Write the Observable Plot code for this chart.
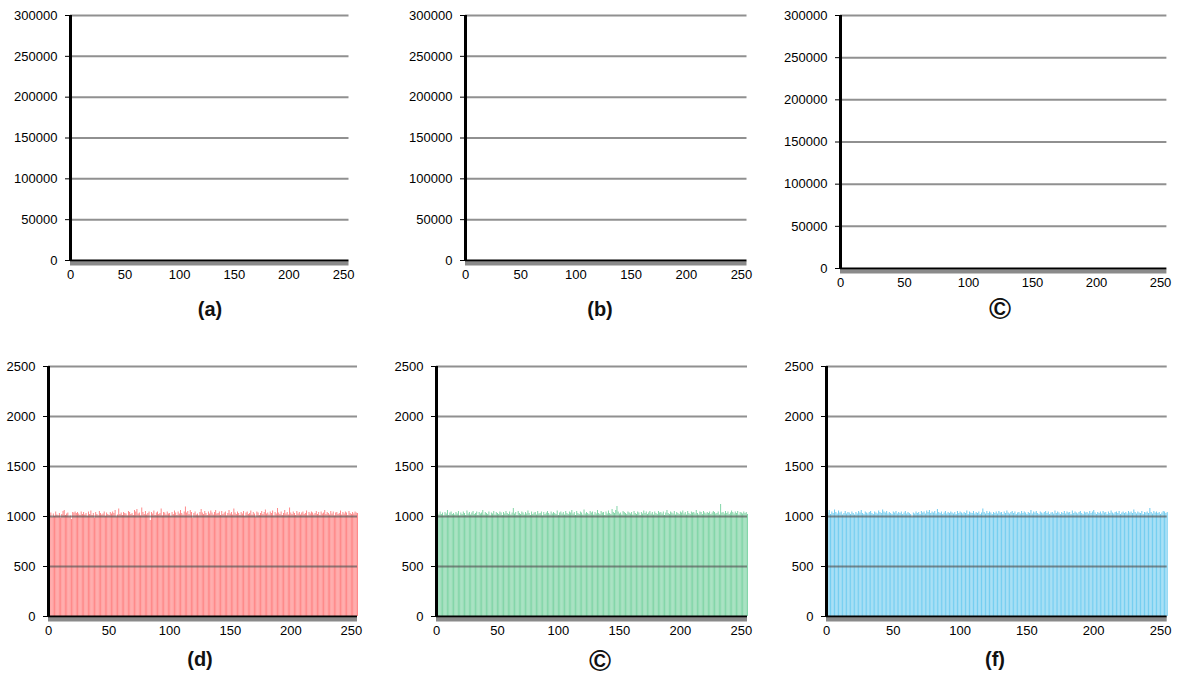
<!DOCTYPE html>
<html>
<head>
<meta charset="utf-8">
<script src="https://cdn.jsdelivr.net/npm/d3@7"></script>
<script src="https://cdn.jsdelivr.net/npm/@observablehq/plot@0.6"></script>
<style>
  html, body { margin: 0; padding: 0; background: #fff; }
  #root { position: relative; width: 1180px; height: 678px; overflow: hidden; font-family: "Liberation Sans", Arial, sans-serif; }
  .panel { position: absolute; }
  .cap { position: absolute; transform: translateX(-50%); font-family: "Liberation Sans", Arial, sans-serif; font-weight: bold; font-size: 20px; color: #111; line-height: 1; white-space: nowrap; }
  .cap.circ { font-size: 30px; }
</style>
</head>
<body>
<div id="root"></div>
<script>
// ---- Data ----
const captions = ["(a)", "(b)", "\u00A9", "(d)", "\u00A9", "(f)"];
const xTicks = [0, 50, 100, 150, 200, 250];
const yTicksTop = [0, 50000, 100000, 150000, 200000, 250000, 300000];
const yTicksBottom = [0, 500, 1000, 1500, 2000, 2500];

// histogram counts per grey level (0..255) (d), (e), (f)
const redCounts = [
1040,1010,1035,990,1025,1000,1045,1015,1005,1030,985,1020,1050,1060,1010,1025,
1035,995,1005,970,1040,1035,1045,1030,1040,1025,1010,1045,1020,1040,1015,1030,
1000,1045,1020,1055,1010,1030,985,1040,1020,1005,1050,1030,1015,1025,1045,1000,
1035,1020,1010,1040,1025,1045,1030,1060,995,1015,1075,1020,1035,1010,1040,1030,
1025,1005,1050,1040,1020,1030,1010,1060,1045,1070,1025,1035,1005,1085,1040,1020,
1050,1015,1030,1045,960,1040,1025,1055,1010,1035,1045,1020,1030,1075,1005,1040,
1035,1015,1045,1025,1030,1000,1040,1020,1055,1035,1010,1045,1025,1060,1030,1015,
1045,1095,1035,1050,1020,1060,1040,985,1030,1045,1015,1025,1005,1040,1070,1035,
1020,1050,1030,1010,1045,1025,1055,1035,1015,1040,1060,1025,1030,1045,1010,1050,
1020,1035,1045,1005,1030,1060,1025,1040,1015,1075,1035,1020,1045,1030,1010,1040,
1025,1050,1000,1035,1045,1020,1030,1055,1015,1040,1025,990,1045,1035,1010,1030,
1050,1020,1040,1065,1025,1035,1015,1045,1030,1055,1005,1040,1025,1080,1035,1020,
1045,1010,1030,1060,1025,1040,1015,1085,1035,1020,1045,1030,1010,1050,1025,1040,
1015,1035,1045,1020,1030,1055,1005,1040,1025,1045,1035,1015,1030,1050,1020,1040,
1010,1045,1025,1035,1060,1020,1040,1030,1015,1050,1025,1045,1005,1035,1040,1020,
1030,1055,1015,1040,1025,1045,1035,1010,1050,1030,1020,1040,1025,1045,1035,1030
];
const greenCounts = [
1000,1030,1015,1045,1020,1035,1005,1040,1025,1060,1010,1035,1045,1020,1030,1015,
1040,1025,1050,1005,1035,1020,1045,1030,1010,1055,1025,1040,1015,1035,1050,1020,
1030,1045,1010,1040,1025,1035,1060,1015,1040,1030,1020,1045,1005,1035,1025,1050,
1015,1040,1030,1020,1045,1035,1010,1040,1025,1050,1030,1020,1045,1015,1035,1080,
1025,1040,1010,1050,1030,1020,1045,1035,1015,1040,1025,1055,1030,1010,1045,1020,
1035,1040,1015,1050,1025,1030,1045,1005,1040,1020,1035,1050,1030,1015,1045,1025,
1040,1030,1020,1055,1010,1035,1045,1025,1040,1015,1050,1030,1020,1045,1035,1060,
1025,1040,1010,1050,1030,1020,1045,1035,1015,1065,1025,1040,1030,1020,1050,1035,
1045,1015,1040,1025,1060,1030,1020,1050,1035,1040,1010,1045,1025,1055,1030,1020,
1070,1040,1030,1060,1100,1045,1025,1035,1015,1050,1040,1030,1020,1045,1035,1025,
1040,1015,1050,1030,1020,1045,1035,1010,1040,1025,1055,1030,1045,1020,1035,1050,
1025,1040,1015,1045,1030,1020,1050,1035,1040,1025,1045,1010,1035,1060,1030,1020,
1045,1035,1025,1050,1015,1040,1030,1020,1045,1035,1055,1025,1040,1015,1050,1030,
1020,1045,1035,1040,1025,1060,1030,1015,1045,1040,1020,1050,1035,1025,1040,1030,
1045,1020,1035,1050,1040,1025,1030,1045,1015,1120,1035,1040,1025,1050,1030,1045,
1020,1035,1055,1040,1025,1045,1030,1050,1015,1040,1035,1025,1045,1030,1040,1020
];
const blueCounts = [
1050,1035,1060,1020,1045,1030,1065,1040,1025,1055,1035,1045,1015,1030,1050,1025,
1040,1035,1020,1045,1030,1015,1040,1025,1050,1035,1060,1030,1020,1045,1035,1025,
1040,1050,1030,1020,1045,1035,1025,1055,1040,1030,1065,1045,1035,1050,1025,1040,
1030,1020,1045,1035,1050,1025,1040,1030,1045,1020,1035,1050,1025,1040,1030,1020,
990,1035,1025,1045,1030,1040,1020,1050,1035,1045,1025,1055,1040,1060,1030,1045,
1035,1050,1025,1070,1040,1030,1045,1020,1035,1050,1025,1040,1030,1045,1035,1025,
1040,1020,1050,1030,1045,1035,1025,1040,1030,1055,1020,1045,1035,1030,1050,1025,
1040,1030,1045,1020,1035,1075,1040,1025,1050,1030,1045,1035,1020,1040,1030,1045,
1025,1050,1035,1040,1020,1045,1030,1055,1035,1025,1040,1050,1030,1045,1020,1035,
1040,1025,1050,1030,1045,1035,1020,1040,1030,1060,1025,1045,1035,1050,1030,1020,
1045,1035,1025,1040,1050,1030,1045,1020,1035,1040,1025,1055,1030,1045,1035,1020,
1040,1030,1050,1025,1045,1035,1040,1020,1055,1030,1045,1035,1025,1040,1050,1030,
1020,1045,1035,1040,1025,1050,1030,1045,1060,1035,1020,1040,1030,1045,1025,1050,
1035,1040,1020,1045,1030,1055,1035,1025,1040,1045,1030,1050,1020,1035,1045,1030,
1040,1025,1050,1035,1045,1030,1065,1040,1025,1045,1035,1030,1050,1020,1040,1035,
1045,1030,1080,1040,1025,1050,1035,1045,1030,1040,1020,1035,1050,1045,1030,1040
];

// ---- Layout ----
const panels = [
  {counts: null, color: null, yTicks: yTicksTop, left: 0,   top: 0,   width: 360, height: 290, ml: 70, mr: 11.5, mt: 15, mb: 30, cap: [210, 299]},
  {counts: null, color: null, yTicks: yTicksTop, left: 400, top: 0,   width: 360, height: 290, ml: 65, mr: 13.5, mt: 15, mb: 30, cap: [600, 299]},
  {counts: null, color: null, yTicks: yTicksTop, left: 780, top: 0,   width: 400, height: 298, ml: 60, mr: 13.6, mt: 15, mb: 30, cap: [1000, 298], circ: true},
  {counts: redCounts,   color: "#ff2a2a", yTicks: yTicksBottom, left: 0,   top: 350, width: 370, height: 296, ml: 48, mr: 13,   mt: 16, mb: 30, cap: [200, 649]},
  {counts: greenCounts, color: "#1fb463", yTicks: yTicksBottom, left: 390, top: 350, width: 370, height: 296, ml: 46, mr: 13,   mt: 16, mb: 30, cap: [600, 650], circ: true},
  {counts: blueCounts,  color: "#1aaee6", yTicks: yTicksBottom, left: 780, top: 350, width: 400, height: 296, ml: 46, mr: 13.3, mt: 16, mb: 30, cap: [995, 649]}
];

const root = document.getElementById("root");
panels.forEach((p, k) => {
  const yMax = p.yTicks[p.yTicks.length - 1];
  const marks = [];
  if (p.counts) {
    const rows = p.counts.map((v, i) => ({bin: i, count: v}));
    marks.push(Plot.rectY(rows, {x1: "bin", x2: d => d.bin + 1, y: "count", fill: p.color, fillOpacity: 0.6, insetRight: 0.3}));
  }
  marks.push(
    Plot.ruleY(p.yTicks.filter(t => t > 0), {stroke: "#555", strokeOpacity: 0.65, strokeWidth: 2}),
    Plot.ruleY([0], {stroke: "#8a8a8a", strokeWidth: 4, dy: 3}),
    Plot.ruleY([0], {stroke: "#000", strokeWidth: 2}),
    Plot.ruleX([0], {stroke: "#000", strokeWidth: 3}),
    Plot.axisY({ticks: p.yTicks, tickFormat: d => String(d), tickSize: 5, tickPadding: 8, label: null}),
    Plot.axisX({ticks: xTicks, tickFormat: d => String(d), tickSize: 0, tickPadding: 9, label: null})
  );
  const chart = Plot.plot({
    width: p.width, height: p.height,
    marginLeft: p.ml, marginRight: p.mr, marginTop: p.mt, marginBottom: p.mb,
    x: {domain: [0, 255]},
    y: {domain: [0, yMax]},
    style: {fontFamily: "'Liberation Sans', Arial, sans-serif", fontSize: "13px", color: "#000", background: "transparent", overflow: "visible"},
    marks
  });
  const div = document.createElement("div");
  div.className = "panel";
  div.style.left = p.left + "px";
  div.style.top = p.top + "px";
  div.appendChild(chart);
  root.appendChild(div);

  const cap = document.createElement("div");
  cap.className = "cap" + (p.circ ? " circ" : "");
  cap.textContent = captions[k];
  cap.style.left = p.cap[0] + "px";
  cap.style.top = (p.cap[1] - (p.circ ? 4 : 0)) + "px";
  root.appendChild(cap);
});
</script>
</body>
</html>
